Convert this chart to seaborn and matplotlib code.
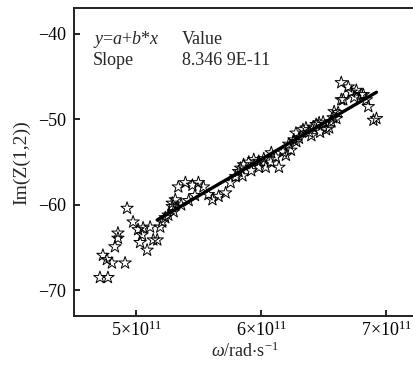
"""
Im(Z(1,2)) versus angular frequency, with linear fit over the upper band.
"""

import numpy as np
import pandas as pd
import matplotlib
matplotlib.use("Agg")
import matplotlib.pyplot as plt
import seaborn as sns

# Data (omega in 1e11 rad/s)
omega_e11 = [4.711, 4.775, 4.735, 4.767, 4.807, 4.912, 4.831, 4.855, 4.855, 4.928,
             4.976, 5.016, 5.048, 5.032, 5.088, 5.056, 5.112, 5.137, 5.169, 5.193,
             5.209, 5.233, 5.257, 5.289, 5.313, 5.289, 5.300, 5.337, 5.360, 5.394,
             5.420, 5.450, 5.470, 5.498, 5.538, 5.578, 5.610, 5.659, 5.715, 5.755,
             5.795, 5.819, 5.835, 5.850, 5.859, 5.900, 5.920, 5.940, 5.980, 5.980,
             6.020, 6.036, 6.076, 6.080, 6.116, 6.141, 6.173, 6.197, 6.220, 6.237,
             6.261, 6.277, 6.280, 6.301, 6.333, 6.357, 6.382, 6.400, 6.414, 6.438,
             6.462, 6.470, 6.494, 6.518, 6.542, 6.560, 6.574, 6.582, 6.600, 6.614,
             6.639, 6.655, 6.639, 6.695, 6.719, 6.743, 6.759, 6.799, 6.815, 6.839,
             6.855, 6.896, 6.920]
im_z12 = [-68.5, -68.5, -65.9, -66.4, -66.8, -66.8, -64.9, -63.9, -63.3, -60.4,
          -62.0, -62.9, -63.5, -64.4, -65.3, -62.7, -62.6, -64.1, -64.1, -62.6,
          -62.0, -61.5, -61.2, -59.8, -59.4, -60.2, -60.8, -57.9, -60.0, -57.4,
          -59.5, -57.7, -58.9, -57.4, -57.9, -58.8, -59.4, -59.0, -58.6, -57.4,
          -56.7, -56.1, -55.7, -56.6, -55.3, -55.0, -56.0, -54.7, -55.6, -54.9,
          -54.6, -55.6, -55.0, -53.9, -54.4, -55.6, -53.8, -54.2, -52.9, -53.6,
          -52.4, -51.6, -52.6, -52.2, -51.2, -51.0, -51.5, -51.9, -50.9, -50.6,
          -50.4, -51.5, -50.3, -51.2, -51.0, -50.3, -49.8, -49.1, -49.9, -49.2,
          -47.7, -47.7, -45.7, -46.2, -46.8, -47.4, -46.6, -47.1, -47.1, -47.7,
          -48.5, -50.1, -49.9]

fit_start_e11 = 5.15
x_ticks_e11 = [5, 6, 7]
x_tick_labels = [r"$5{\times}10^{11}$", r"$6{\times}10^{11}$", r"$7{\times}10^{11}$"]
y_ticks = [-40, -50, -60, -70]

df = pd.DataFrame({"omega": np.array(omega_e11) * 1e11, "im": im_z12})
fit_df = df[df["omega"] >= fit_start_e11 * 1e11]

sns.set_style("ticks")
plt.rcParams["font.family"] = ["Liberation Serif", "DejaVu Serif"]
plt.rcParams["mathtext.fontset"] = "custom"
plt.rcParams["mathtext.rm"] = "Liberation Serif"
plt.rcParams["mathtext.it"] = "Liberation Serif:italic"
plt.rcParams["mathtext.fallback"] = "stix"
plt.rcParams["axes.unicode_minus"] = True

fig = plt.figure(figsize=(4.14, 3.69), dpi=100)
ax = fig.add_axes([74 / 414, 53 / 369, 342 / 414, 307.7 / 369])

sns.scatterplot(data=df, x="omega", y="im", marker="*", s=88,
                facecolor="none", edgecolor="black", linewidth=0.7, ax=ax)
sns.regplot(data=fit_df, x="omega", y="im", scatter=False, ci=None, truncate=True,
            line_kws=dict(color="black", lw=2.4), ax=ax)

ax.set_xlim(4.504e11, 7.236e11)
ax.set_ylim(-73, -37)
ax.set_xticks([v * 1e11 for v in x_ticks_e11])
ax.set_xticklabels(x_tick_labels)
ax.set_yticks(y_ticks)
ax.tick_params(direction="in", length=4, width=1.2, labelsize=13, colors="black")
ax.tick_params(axis="y", pad=6)
for side in ["left", "bottom", "top", "right"]:
    ax.spines[side].set_linewidth(1.4)
    ax.spines[side].set_color("#222222")

ax.set_xlabel(r"$\omega$/rad$\cdot$s$^{-1}$", fontsize=13, labelpad=1)
ax.set_ylabel("Im(Z(1,2))", fontsize=14, labelpad=5)

ax.text(0.056, 0.897, r"$y$=$a$+$b$*$x$", transform=ax.transAxes, fontsize=13, va="center")
ax.text(0.316, 0.897, "Value", transform=ax.transAxes, fontsize=13, va="center")
ax.text(0.056, 0.829, "Slope", transform=ax.transAxes, fontsize=13, va="center")
ax.text(0.316, 0.829, "8.346 9E-11", transform=ax.transAxes, fontsize=13, va="center")

fig.savefig("out.png", dpi=100)
